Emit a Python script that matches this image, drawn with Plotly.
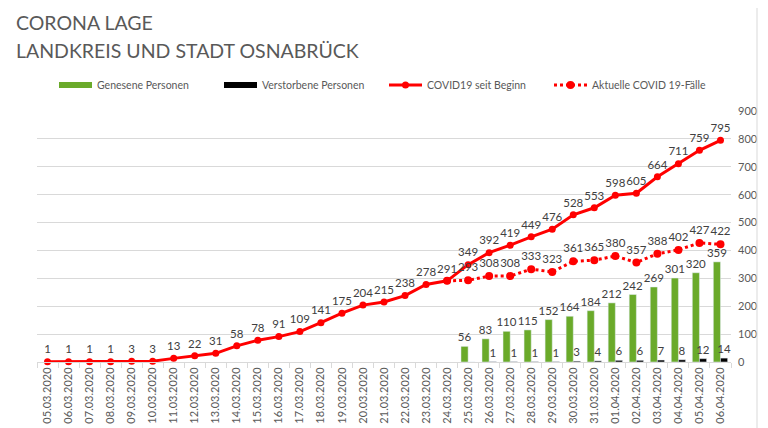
import plotly.graph_objects as go

dates = ["05.03.2020", "06.03.2020", "07.03.2020", "08.03.2020", "09.03.2020",
         "10.03.2020", "11.03.2020", "12.03.2020", "13.03.2020", "14.03.2020",
         "15.03.2020", "16.03.2020", "17.03.2020", "18.03.2020", "19.03.2020",
         "20.03.2020", "21.03.2020", "22.03.2020", "23.03.2020", "24.03.2020",
         "25.03.2020", "26.03.2020", "27.03.2020", "28.03.2020", "29.03.2020",
         "30.03.2020", "31.03.2020", "01.04.2020", "02.04.2020", "03.04.2020",
         "04.04.2020", "05.04.2020", "06.04.2020"]

seit_beginn = [1, 1, 1, 1, 3, 3, 13, 22, 31, 58, 78, 91, 109, 141, 175, 204, 215,
               238, 278, 291, 349, 392, 419, 449, 476, 528, 553, 598, 605, 664,
               711, 759, 795]

# ab 24.03. vorhanden
aktuell_dates = dates[19:]
aktuell = [291, 293, 308, 308, 333, 323, 361, 365, 380, 357, 388, 402, 427, 422]

bar_dates = dates[20:]
genesen = [56, 83, 110, 115, 152, 164, 184, 212, 242, 269, 301, 320, 359]
verstorben = [0, 1, 1, 1, 1, 3, 4, 6, 6, 7, 8, 12, 14]

y_ticks = [0, 100, 200, 300, 400, 500, 600, 700, 800, 900]

FONT = "Lato, Open Sans, sans-serif"
LABEL = dict(family=FONT, size=11.5, color="#404040")
RED = "#ff0000"
GREEN = "#6aaa2a"

# seite hat 8px body-rand, daher 760x420
W, H = 760, 420
ML, MR, MT, MB = 29, 37, 103, 66
PW, PH = W - ML - MR, H - MT - MB

fig = go.Figure()

fig.add_trace(go.Bar(
    x=bar_dates, y=genesen, name="Genesene Personen", showlegend=False,
    marker_color=GREEN, text=genesen, textposition="outside",
    textfont=LABEL, cliponaxis=False, constraintext="none",
))
fig.add_trace(go.Bar(
    x=bar_dates, y=verstorben, name="Verstorbene Personen", showlegend=False,
    marker_color="#000000",
    text=[str(v) if v else "" for v in verstorben], textposition="outside",
    textfont=LABEL, cliponaxis=False, constraintext="none",
))

# breite legendensymbole fuer die balken
fig.add_trace(go.Scatter(
    x=[None], y=[None], name="Genesene Personen", mode="lines",
    line=dict(color=GREEN, width=6),
))
fig.add_trace(go.Scatter(
    x=[None], y=[None], name="Verstorbene Personen", mode="lines",
    line=dict(color="#000000", width=6),
))

fig.add_trace(go.Scatter(
    x=dates, y=seit_beginn, name="COVID19 seit Beginn",
    mode="lines+markers+text", line=dict(color=RED, width=3),
    marker=dict(size=7, color=RED),
    text=seit_beginn, textposition="top center", textfont=LABEL,
    cliponaxis=False,
))
fig.add_trace(go.Scatter(
    x=aktuell_dates, y=aktuell, name="Aktuelle COVID 19-Fälle",
    mode="lines+markers+text", line=dict(color=RED, width=3, dash="dot"),
    marker=dict(size=8, color=RED),
    text=[""] + aktuell[1:], textposition="top center", textfont=LABEL,
    cliponaxis=False,
))

fig.update_layout(
    width=W, height=H,
    margin=dict(l=ML, r=MR, t=MT, b=MB, autoexpand=False),
    paper_bgcolor="white", plot_bgcolor="white",
    font=dict(family=FONT, color="#595959"),
    barmode="group", bargap=0.32, bargroupgap=0,
    legend=dict(
        orientation="h", x=0.5, xanchor="center",
        y=(PH + MT - 77) / PH, yanchor="middle",
        font=dict(family=FONT, size=10.5, color="#595959"),
        entrywidth=117, entrywidthmode="pixels", itemwidth=33,
        traceorder="normal",
    ),
    showlegend=True,
)

for line, ypx in [("CORONA LAGE", 14), ("LANDKREIS UND STADT OSNABRÜCK", 42)]:
    fig.add_annotation(
        text=line, xref="paper", yref="paper",
        x=(6 - ML) / PW, y=(PH + MT - ypx) / PH,
        xanchor="left", yanchor="middle", align="left", showarrow=False,
        font=dict(family=FONT, size=19.5, color="#595959"),
    )

fig.update_xaxes(
    type="category", categoryorder="array", categoryarray=dates,
    range=[-0.5, len(dates) - 0.5],
    tickangle=-90, automargin=False,
    tickfont=dict(family=FONT, size=11, color="#595959"),
    showline=True, linecolor="#d9d9d9", linewidth=1,
    ticks="outside", tickson="boundaries", ticklen=5, tickcolor="#d9d9d9",
    showgrid=False,
)
fig.update_yaxes(
    side="right", range=[0, 900], tickvals=y_ticks, automargin=False,
    tickfont=dict(family=FONT, size=11, color="#595959"),
    showgrid=True, gridcolor="#d9d9d9", gridwidth=1,
    zeroline=False, ticks="", ticklabelstandoff=6,
)

# rahmen rechts
fig.add_shape(type="line", xref="paper", yref="paper",
              x0=(PW + MR - 11) / PW, x1=(PW + MR - 11) / PW,
              y0=-MB / PH, y1=(PH + MT) / PH,
              line=dict(color="#d9d9d9", width=1))

fig.write_html("out.html")
